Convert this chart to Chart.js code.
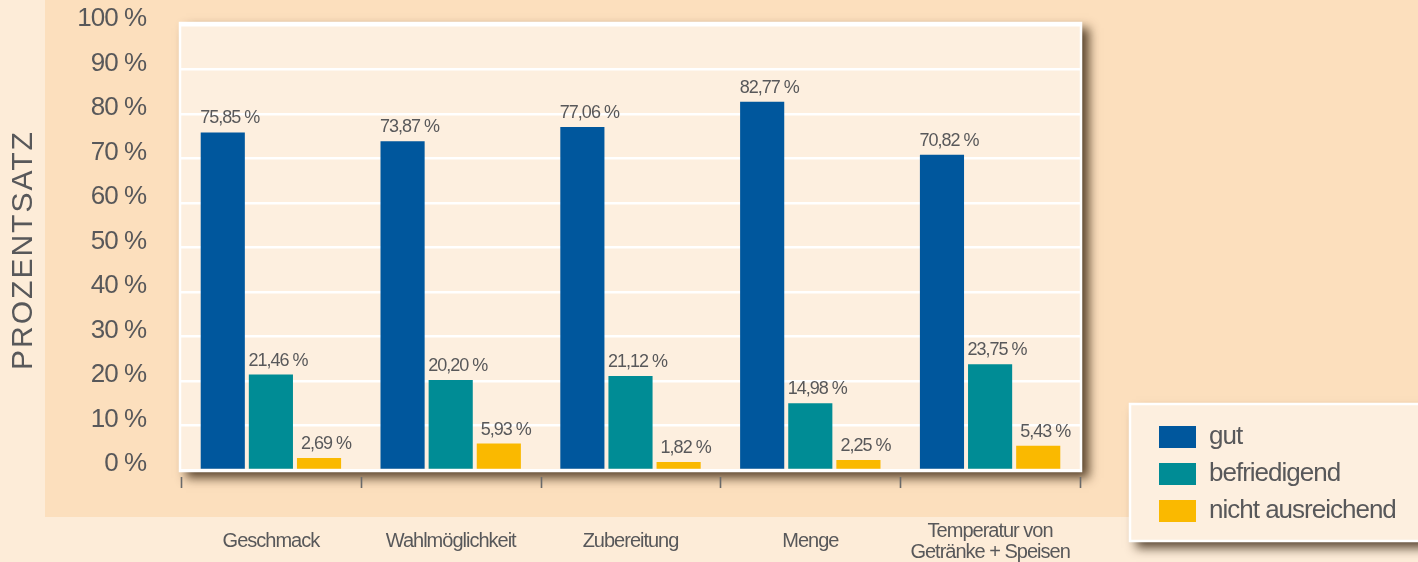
<!DOCTYPE html>
<html><head><meta charset="utf-8">
<script src="https://cdn.jsdelivr.net/npm/chart.js@4.4.0/dist/chart.umd.min.js"></script>
<style>html,body{margin:0;padding:0;background:#fdecd8;overflow:hidden}#wrap{width:1418px;height:562px}</style>
</head><body><div id="wrap"><canvas id="c" width="1418" height="562"></canvas></div>
<script>
const categories = ['Geschmack', 'Wahlmöglichkeit', 'Zubereitung', 'Menge', ['Temperatur von', 'Getränke + Speisen']];
const seriesNames = ['gut', 'befriedigend', 'nicht ausreichend'];
const gut = [75.85, 73.87, 77.06, 82.77, 70.82];
const befriedigend = [21.46, 20.20, 21.12, 14.98, 23.75];
const nichtAusreichend = [2.69, 5.93, 1.82, 2.25, 5.43];
const yTicks = [0, 10, 20, 30, 40, 50, 60, 70, 80, 90, 100];
const yTitle = 'PROZENTSATZ';

const FONT = "'Liberation Sans', Arial, sans-serif";
const TXT = '#58585a';
const fmt = v => v.toFixed(2).replace('.', ',') + ' %';

const decor = {
  id: 'decor',
  beforeLayout(chart) { try { chart.ctx.letterSpacing = '-1px'; } catch (e) {} },
  afterLayout(chart) {
    const lg = chart.legend;
    const w = lg.width, h = lg.height;
    lg.left = 1148; lg.top = 413; lg.right = lg.left + w; lg.bottom = lg.top + h;
  },
  beforeDraw(chart) {
    const {ctx, chartArea: a} = chart;
    try { ctx.letterSpacing = '-1px'; } catch (e) {}
    ctx.save();
    ctx.fillStyle = '#fdecd8'; ctx.fillRect(0, 0, chart.width, chart.height);
    ctx.fillStyle = '#fcdfbd'; ctx.fillRect(45, 0, chart.width - 45, 517);
    // plot frame with shadow
    ctx.shadowColor = 'rgba(50,30,10,0.8)'; ctx.shadowBlur = 10; ctx.shadowOffsetX = 7; ctx.shadowOffsetY = 6;
    ctx.fillStyle = '#fdefdf';
    ctx.fillRect(a.left - 2, a.top - 3, a.right - a.left + 4, a.bottom - a.top + 5);
    ctx.shadowColor = 'transparent';
    ctx.strokeStyle = '#ffffff'; ctx.lineWidth = 2.5;
    ctx.strokeRect(a.left - 1, a.top - 2, a.right - a.left + 2, a.bottom - a.top + 3);
    // legend box
    const lg = chart.legend;
    const bx = lg.left - 18, by = lg.top - 9;
    ctx.shadowColor = 'rgba(50,30,10,0.8)'; ctx.shadowBlur = 10; ctx.shadowOffsetX = 6; ctx.shadowOffsetY = 7;
    ctx.fillStyle = '#fdefdf';
    ctx.fillRect(bx, by, 300, 137);
    ctx.shadowColor = 'transparent';
    ctx.strokeStyle = '#ffffff'; ctx.lineWidth = 2.5;
    ctx.strokeRect(bx, by, 300, 137);
    ctx.restore();
  },
  afterDatasetsDraw(chart) {
    const ctx = chart.ctx;
    ctx.save();
    ctx.font = `18px ${FONT}`; ctx.fillStyle = TXT; ctx.textAlign = 'center'; ctx.textBaseline = 'alphabetic';
    chart.data.datasets.forEach((ds, di) => {
      chart.getDatasetMeta(di).data.forEach((bar, i) => {
        ctx.fillText(fmt(ds.data[i]), bar.x + 7, bar.y - 9);
      });
    });
    ctx.restore();
  },
  afterDraw(chart) {
    const ctx = chart.ctx, xs = chart.scales.x;
    ctx.save();
    // category boundary ticks
    ctx.strokeStyle = '#6a6a6a'; ctx.lineWidth = 1.6;
    const n = chart.data.labels.length;
    const step = (xs.right - xs.left) / n;
    for (let i = 0; i <= n; i++) {
      const x = Math.round(xs.getPixelForValue(0) - step / 2 + i * step) + 0.5;
      ctx.beginPath(); ctx.moveTo(x, xs.top + 7); ctx.lineTo(x, xs.top + 18); ctx.stroke();
    }
    // y title
    ctx.translate(24, 251); ctx.rotate(-Math.PI / 2);
    ctx.font = `30px 'Liberation Sans', sans-serif`; ctx.fillStyle = TXT;
    ctx.textAlign = 'center'; ctx.textBaseline = 'middle';
    try { ctx.letterSpacing = '2px'; } catch (e) {}
    ctx.fillText(yTitle, 1, 0);
    ctx.restore();
  }
};

new Chart(document.getElementById('c'), {
  type: 'bar',
  data: {
    labels: categories,
    datasets: [
      {label: seriesNames[0], data: gut, backgroundColor: '#00579d'},
      {label: seriesNames[1], data: befriedigend, backgroundColor: '#008c95'},
      {label: seriesNames[2], data: nichtAusreichend, backgroundColor: '#fab900'}
    ]
  },
  options: {
    responsive: false,
    animation: false,
    devicePixelRatio: 1,
    categoryPercentage: 0.803,
    barPercentage: 0.917,
    layout: {padding: {top: 25, right: 338, bottom: 0, left: 0}},
    plugins: {
      legend: {
        position: 'chartArea', align: 'start',
        labels: {boxWidth: 37, boxHeight: 22, padding: 11, color: TXT, font: {family: FONT, size: 26}}
      },
      tooltip: {enabled: false}
    },
    scales: {
      x: {
        grid: {display: false}, border: {display: false},
        ticks: {color: TXT, font: {family: FONT, size: 20, lineHeight: 1.05}, padding: 53, crossAlign: 'center', maxRotation: 0, autoSkip: false},
        afterFit: s => { s.height = 92; s.paddingLeft = 0; s.paddingRight = 0; }
      },
      y: {
        min: 0, max: 100,
        afterBuildTicks: s => { s.ticks = yTicks.map(v => ({value: v})); },
        grid: {color: '#ffffff', lineWidth: 2.5, drawTicks: false},
        border: {display: false},
        ticks: {color: TXT, font: {family: FONT, size: 26}, padding: 35, labelOffset: -6, callback: v => v + ' %'},
        afterFit: s => { s.width = 181; s.paddingTop = 0; s.paddingBottom = 0; }
      }
    }
  },
  plugins: [decor]
});
</script></body></html>
